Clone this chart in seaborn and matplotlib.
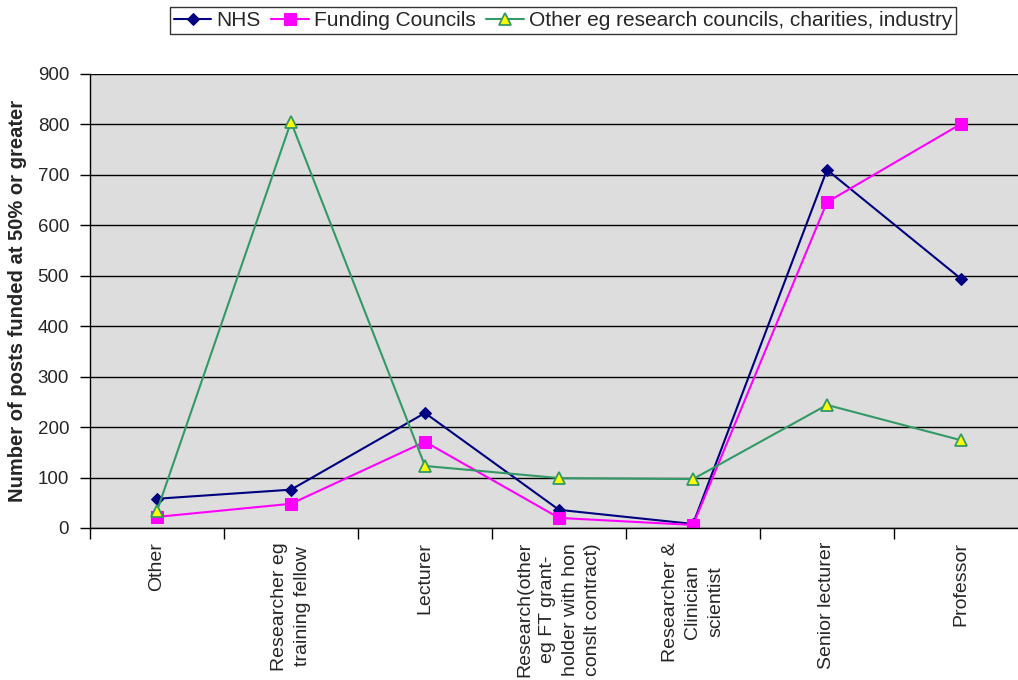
import matplotlib
matplotlib.use("Agg")
import matplotlib.pyplot as plt
import seaborn as sns
import pandas as pd
from matplotlib.ticker import FixedLocator, MultipleLocator

categories = ["Other", "Researcher eg\ntraining fellow", "Lecturer",
              "Research(other\neg FT grant-\nholder with hon\nconslt contract)",
              "Researcher &\nClinician\nscientist", "Senior lecturer", "Professor"]
nhs = [58, 76, 228, 36, 8, 710, 494]
funding = [22, 48, 171, 20, 6, 646, 801]
other = [34, 805, 123, 99, 97, 244, 174]
series_names = ["NHS", "Funding Councils", "Other eg research councils, charities, industry"]

sns.set_theme(style="white")
plt.rcParams['font.family'] = ['Liberation Sans', 'DejaVu Sans']

rows = []
for name, vals in zip(series_names, [nhs, funding, other]):
    for c, v in zip(categories, vals):
        rows.append({"cat": c, "val": v, "series": name})
df = pd.DataFrame(rows)

fig = plt.figure(figsize=(10.18, 6.8), dpi=100)
ax = fig.add_axes([90/1018, (680-528)/680, 938/1018, (528-74)/680])
ax.set_facecolor("#DDDDDD")

styles = {
    "NHS": dict(color="#000080", marker="D", markersize=6, markerfacecolor="#000080", markeredgecolor="#000080"),
    "Funding Councils": dict(color="#FF00FF", marker="s", markersize=8, markerfacecolor="#FF00FF", markeredgecolor="#FF00FF"),
    "Other eg research councils, charities, industry": dict(color="#339966", marker="^", markersize=8, markerfacecolor="#FFFF00", markeredgecolor="#339966", markeredgewidth=1.3),
}
for name in series_names:
    sub = df[df.series == name]
    sns.lineplot(data=sub, x="cat", y="val", sort=False, ax=ax, label=name, linewidth=1.5, **styles[name])

ax.set_ylim(0, 900)
ax.set_xlim(-0.5, 6.5)
ax.yaxis.set_major_locator(MultipleLocator(100))
ax.grid(axis="y", color="black", linewidth=1.0)
ax.set_axisbelow(True)

ax.set_xticks(range(len(categories)))
ax.set_xticklabels(categories, rotation=90, ha="center", va="top", multialignment="center",
                   fontsize=14, linespacing=1.42)
ax.xaxis.set_minor_locator(FixedLocator([i - 0.5 for i in range(len(categories) + 1)]))
ax.tick_params(axis="x", which="major", length=0, pad=10)
ax.tick_params(axis="x", which="minor", length=8, width=1, color="black", direction="out", bottom=True)
ax.tick_params(axis="y", which="major", length=7, width=1, color="black", direction="out", left=True,
               labelsize=13.5, pad=8)

for s in ["top", "right"]:
    ax.spines[s].set_visible(False)
for s in ["left", "bottom"]:
    ax.spines[s].set_color("black")
    ax.spines[s].set_linewidth(1.0)

ax.set_xlabel("")
ax.set_ylabel("Number of posts funded at 50% or greater", fontsize=14.5, fontweight="bold", labelpad=8)

leg = ax.legend(loc="upper center", bbox_to_anchor=(563/1018, 1 - 7/680), bbox_transform=fig.transFigure,
                ncol=3, frameon=True, fancybox=False, fontsize=15, handlelength=1.8,
                columnspacing=0.5, handletextpad=0.25, borderpad=0.2, borderaxespad=0)
leg.get_frame().set_edgecolor("black")
leg.get_frame().set_linewidth(1.0)

fig.savefig("out.png", dpi=100)
